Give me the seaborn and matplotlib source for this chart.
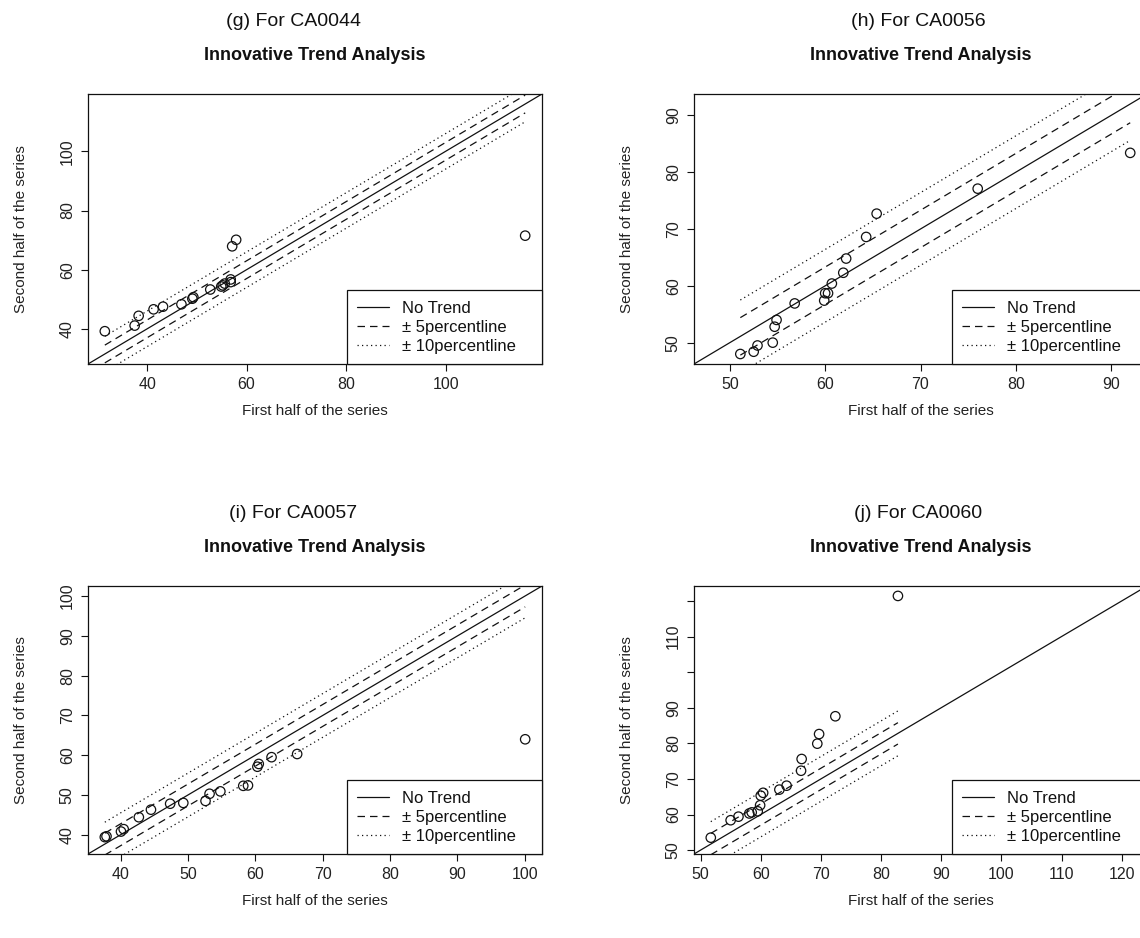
import matplotlib
matplotlib.use("Agg")
import matplotlib.pyplot as plt
from matplotlib.lines import Line2D
import numpy as np
import pandas as pd
import seaborn as sns

# ---------------- data ----------------
g_first = [31.5, 37.5, 38.3, 41.3, 43.2, 46.9, 49.1, 49.3, 52.7, 54.9, 55.2, 55.6, 56.8, 56.8, 57.1, 57.9, 116.0]
g_second = [39.2, 41.1, 44.4, 46.6, 47.5, 48.3, 50.2, 50.7, 53.3, 54.3, 54.7, 55.3, 55.8, 56.7, 67.9, 70.1, 71.5]

h_first = [51.1, 52.5, 52.9, 54.5, 54.7, 54.9, 56.8, 59.9, 60.0, 60.3, 60.7, 61.9, 62.2, 64.3, 65.4, 76.0, 92.0]
h_second = [48.0, 48.4, 49.5, 50.0, 52.8, 54.0, 56.9, 57.4, 58.7, 58.7, 60.4, 62.3, 64.8, 68.6, 72.7, 77.1, 83.4]

i_first = [37.65, 37.9, 40.05, 40.45, 42.7, 44.5, 47.35, 49.3, 52.6, 53.2, 54.8, 58.2, 58.9, 60.3, 60.5, 62.4, 66.2, 100.05]
i_second = [39.4, 39.6, 40.8, 41.4, 44.4, 46.3, 47.8, 48.0, 48.5, 50.3, 50.9, 52.3, 52.4, 57.1, 57.8, 59.5, 60.3, 64.0]

j_first = [51.7, 55.0, 56.3, 58.1, 58.5, 59.5, 59.9, 60.0, 60.4, 63.1, 64.3, 66.7, 66.8, 69.4, 69.7, 72.4, 82.8]
j_second = [53.5, 58.4, 59.4, 60.3, 60.6, 60.9, 62.6, 65.3, 66.1, 67.0, 68.1, 72.3, 75.6, 79.9, 82.6, 87.6, 121.4]

# +/- 5 and +/- 10 percentile band offsets
g_bands = [3.0, 6.0]
h_bands = [3.3, 6.4]
i_bands = [2.75, 5.5]
j_bands = [3.0, 6.3]

captions = ["(g) For CA0044", "(h) For CA0056", "(i) For CA0057", "(j) For CA0060"]
main_title = "Innovative Trend Analysis"
x_label = "First half of the series"
y_label = "Second half of the series"
legend_labels = ["No Trend", "\u00b1 5percentline", "\u00b1 10percentline"]

g_ticks = [40, 60, 80, 100]
h_ticks = [50, 60, 70, 80, 90]
i_ticks = [40, 50, 60, 70, 80, 90, 100]
j_ticks = [50, 60, 70, 80, 90, 100, 110, 120]
j_ytick_labels = ["50", "60", "70", "80", "90", "", "110", ""]

# ---------------- styling ----------------
sns.set_theme(style="white")
plt.rcParams['font.family'] = ['Liberation Sans', 'DejaVu Sans']

W, H = 1140, 938
fig = plt.figure(figsize=(W / 100, H / 100), dpi=100)


def rect(l, r, t, b):
    return [l / W, 1 - b / H, (r - l) / W, (b - t) / H]


panels = [
    dict(first=g_first, second=g_second, bands=g_bands, xt=g_ticks, yt=g_ticks,
         ytl=[str(t) for t in g_ticks], cap=captions[0], box=(88, 542, 94, 364), capx=293),
    dict(first=h_first, second=h_second, bands=h_bands, xt=h_ticks, yt=h_ticks,
         ytl=[str(t) for t in h_ticks], cap=captions[1], box=(694, 1147, 94, 364), capx=918),
    dict(first=i_first, second=i_second, bands=i_bands, xt=i_ticks, yt=i_ticks,
         ytl=[str(t) for t in i_ticks], cap=captions[2], box=(88, 542, 586, 854), capx=293),
    dict(first=j_first, second=j_second, bands=j_bands, xt=j_ticks, yt=j_ticks,
         ytl=j_ytick_labels, cap=captions[3], box=(694, 1147, 586, 854), capx=918),
]

ink = "#111111"
DASH = (0, (6, 4))
DOT = (0, (1, 2.6))

for p in panels:
    l, r, t, b = p["box"]
    aw, ah = r - l, b - t
    ax = fig.add_axes(rect(l, r, t, b))
    df = pd.DataFrame({"first": p["first"], "second": p["second"]})

    allv = np.concatenate([df["first"].values, df["second"].values])
    lo, hi = allv.min(), allv.max()
    pad = 0.04 * (hi - lo)
    ax.set_xlim(lo - pad, hi + pad)
    ax.set_ylim(lo - pad, hi + pad)

    # 1:1 no-trend line across the whole panel
    ax.axline((lo, lo), slope=1, color=ink, lw=0.9, zorder=2)
    # percentile bands over the range of the first half
    xs = np.array([df["first"].min(), df["first"].max()])
    d5, d10 = p["bands"]
    for sgn in (1, -1):
        ax.plot(xs, xs + sgn * d5, color=ink, lw=0.9, linestyle=DASH, zorder=2)
        ax.plot(xs, xs + sgn * d10, color=ink, lw=0.9, linestyle=DOT, zorder=2)

    sns.scatterplot(data=df, x="first", y="second", ax=ax, s=46, marker="o",
                    zorder=3, legend=False)
    coll = ax.collections[-1]
    coll.set_facecolor("none")
    coll.set_edgecolor(ink)
    coll.set_linewidth(0.9)

    ax.set_xticks(p["xt"])
    ax.set_xticklabels([str(v) for v in p["xt"]])
    ax.set_yticks(p["yt"])
    ax.set_yticklabels(p["ytl"], rotation=90, va="center")
    ax.tick_params(axis="both", direction="out", length=5, width=0.8, color=ink,
                   labelsize=11.5, labelcolor="#222222", pad=4.5)
    ax.tick_params(axis="x", bottom=True)
    ax.tick_params(axis="y", left=True)
    for s in ax.spines.values():
        s.set_color(ink)
        s.set_linewidth(0.9)
        s.set_visible(True)

    ax.set_xlabel("")
    ax.set_ylabel("")

    cx = (l + r) / 2
    cy = (t + b) / 2
    fig.text(cx / W, 1 - (b + 47) / H, x_label, ha="center", va="center",
             fontsize=11, color="#222222")
    fig.text((l - 67) / W, 1 - cy / H, y_label, ha="center", va="center",
             rotation=90, fontsize=11, color="#222222")
    fig.text(cx / W, 1 - (t - 39) / H, main_title, ha="center", va="center",
             fontsize=13, fontweight="bold", color="#111111")
    fig.text(p["capx"] / W, 1 - (t - 73) / H, p["cap"], ha="center", va="center",
             fontsize=14, color="#111111")

    handles = [
        Line2D([], [], color=ink, lw=0.9, linestyle="-"),
        Line2D([], [], color=ink, lw=0.9, linestyle=DASH),
        Line2D([], [], color=ink, lw=0.9, linestyle=DOT),
    ]
    lw_px, lh_px = 195, 74
    leg = ax.legend(handles, legend_labels, loc="lower right",
                    bbox_to_anchor=(1 - lw_px / aw, 0, lw_px / aw, lh_px / ah),
                    mode="expand", borderaxespad=0, frameon=True, fancybox=False,
                    framealpha=1, edgecolor=ink, fontsize=12, handlelength=1.9,
                    handletextpad=0.8, labelspacing=0.24, borderpad=0.62)
    leg.get_frame().set_linewidth(0.9)
    for txt in leg.get_texts():
        txt.set_color("#111111")

fig.savefig("out.png", dpi=100, facecolor="white")
